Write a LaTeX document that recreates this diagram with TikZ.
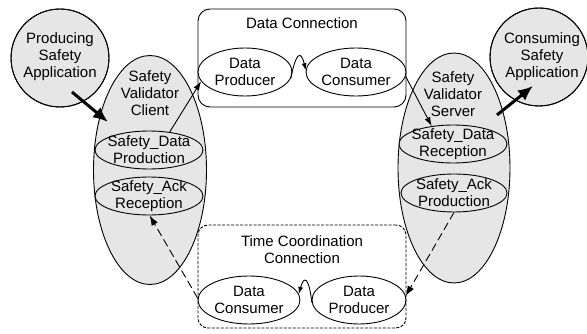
\documentclass[tikz,border=0pt]{standalone}
\usepackage{fontspec}
\setmainfont{Liberation Sans}
\usetikzlibrary{shapes.geometric,arrows.meta}
\definecolor{fillg}{RGB}{230,230,230}
\begin{document}
\begin{tikzpicture}[x=1pt,y=-1pt,
  lbl/.style={align=center,inner sep=0pt,font=\fontsize{15}{17}\selectfont},
  oval/.style={ellipse,draw,line width=0.9pt,inner sep=0pt},
  ring/.style={circle,draw,line width=0.9pt,inner sep=0pt,minimum size=98pt},
  box/.style={rectangle,draw,line width=0.9pt,fill=white,inner sep=0pt},
  thin/.style={line width=0.9pt,-{Latex[length=9pt,width=6pt]}},
  thick/.style={line width=3pt,-{Latex[length=15pt,width=13pt]}},
  dsh/.style={line width=0.9pt,dash pattern=on 8pt off 4pt,-{Latex[length=10pt,width=7pt]}},
  wiggle/.style={line width=0.9pt,-{Latex[length=7pt,width=5pt]}}
]
\useasboundingbox (0,0) rectangle (587,334);
% applications
\node[ring,fill=fillg] (pa) at (60,58) {};
\node[ring,fill=fillg] (ca) at (539,57) {};
% validators
\node[oval,fill=fillg,minimum width=113pt,minimum height=229pt] (cl) at (150,170) {};
\node[oval,fill=fillg,minimum width=112pt,minimum height=230pt] (sv) at (454,168) {};
\node[ring] (pa2) at (pa) {};
\node[ring] (ca2) at (ca) {};
% inner ellipses
\node[oval,fill=fillg,minimum width=108pt,minimum height=38pt] (sdp) at (149,150) {};
\node[oval,fill=fillg,minimum width=108pt,minimum height=38pt] (sar) at (149,196) {};
\node[oval,fill=fillg,minimum width=108pt,minimum height=38pt] (sdr) at (453,144) {};
\node[oval,fill=fillg,minimum width=106pt,minimum height=38pt] (sap) at (454,193) {};
% connection boxes
\node[box,rounded corners=12pt,minimum width=208pt,minimum height=98pt] (dcon) at (302,58) {};
\node[box,rounded corners=10pt,dash pattern=on 3pt off 1.5pt,minimum width=208pt,minimum height=103pt] (tcon) at (302,276.5) {};
\node[oval,fill=white,minimum width=94pt,minimum height=48pt] (dp) at (245,72) {};
\node[oval,fill=white,minimum width=100pt,minimum height=48pt] (dc) at (356,72) {};
\node[oval,fill=white,minimum width=102pt,minimum height=48pt] (tc) at (249,300) {};
\node[oval,fill=white,minimum width=94pt,minimum height=48pt] (tp) at (359,300) {};
% labels
\node[lbl] (tpa) at (60,57) {Producing\\Safety\\Application};
\node[lbl] (tca) at (542,57) {Consuming\\Safety\\Application};
\node[lbl] (tcl) at (150,93) {Safety\\Validator\\Client};
\node[lbl] (tsv) at (453,94) {Safety\\Validator\\Server};
\node[lbl] (tsdp) at (sdp) {Safety\_Data\\Production};
\node[lbl] (tsar) at (sar) {Safety\_Ack\\Reception};
\node[lbl] (tsdr) at (sdr) {Safety\_Data\\Reception};
\node[lbl] (tsap) at (sap) {Safety\_Ack\\Production};
\node[lbl] (tdcon) at (302,23) {Data Connection};
\node[lbl] (ttcon) at (302,249.5) {Time Coordination\\Connection};
\node[lbl] (tdp) at (dp) {Data\\Producer};
\node[lbl] (tdc) at (dc) {Data\\Consumer};
\node[lbl] (ttc) at (tc) {Data\\Consumer};
\node[lbl] (ttp) at (tp) {Data\\Producer};
% thick arrows
\coordinate (a1s) at (72,92);
\coordinate (a1e) at (108,122);
\coordinate (a2s) at (497,115);
\coordinate (a2e) at (533,86);
\draw[thick] (a1s) -- (a1e);
\draw[thick] (a2s) -- (a2e);
% thin arrows
\draw[thin] (sdp.41) -- (dp.192);
\draw[thin] (dc.-5) -- (sdr.140);
\draw[dsh] (sap.-90) -- (tp.5);
\draw[dsh] (tc.178) -- (sar.-88);
% wiggles
\draw[wiggle] (dp.-8) .. controls (296,52) and (301,50) .. (dc.178);
\draw[wiggle] (tp.183) .. controls (309,277) and (304,275) .. (tc.7);
\end{tikzpicture}
\end{document}
